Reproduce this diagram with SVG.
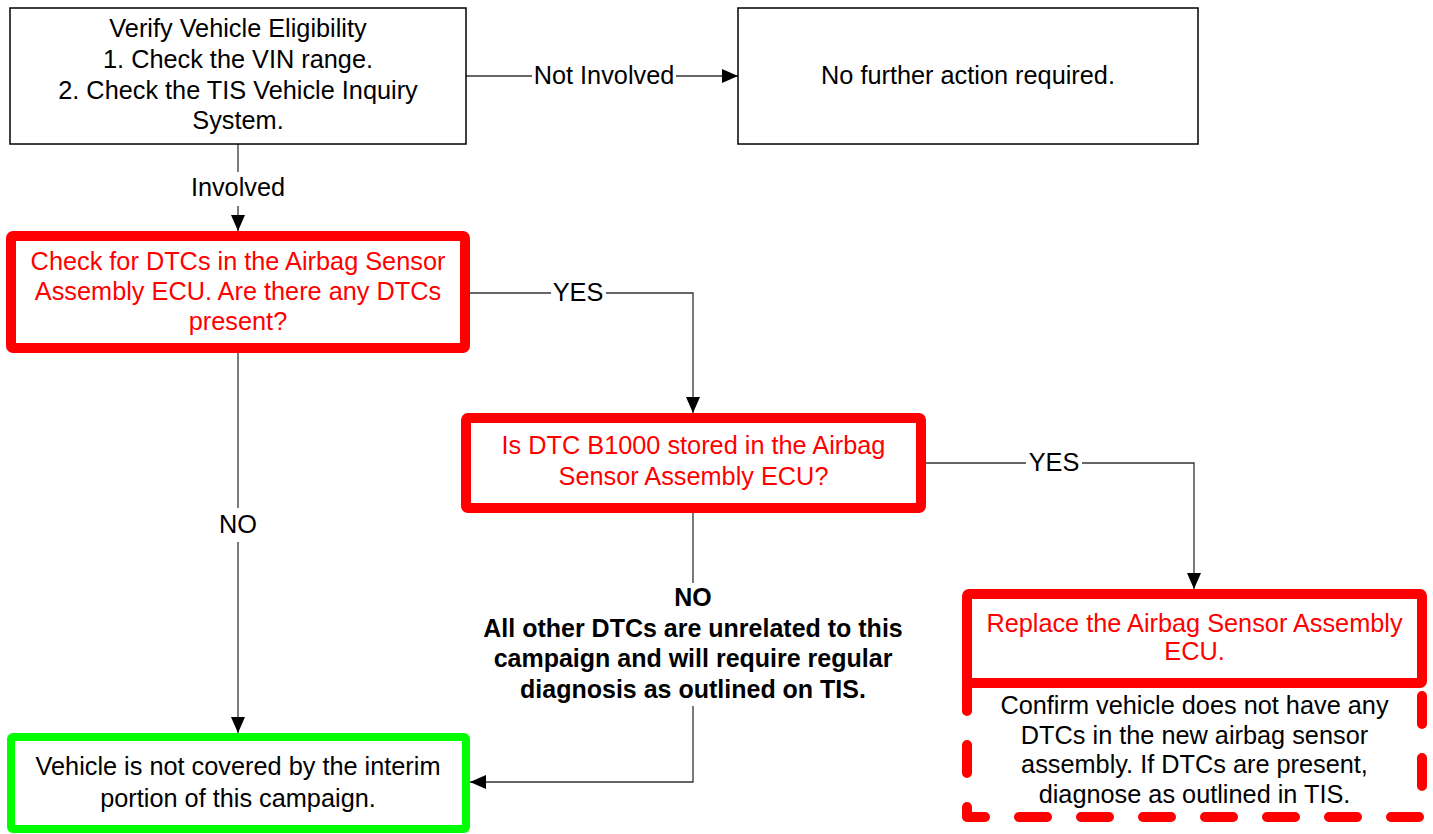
<svg xmlns="http://www.w3.org/2000/svg" width="1433" height="834" viewBox="0 0 1433 834">
<style>
text{font-family:"Liberation Sans",Arial,sans-serif;font-size:25.3px;text-anchor:middle}
.blk{fill:#000}
.red{fill:#ff0000}
.bold{font-weight:bold;font-size:25px}
.thin{fill:#fff;stroke:#000;stroke-width:1.5}
.redbox{fill:#fff;stroke:#ff0000;stroke-width:10;stroke-linejoin:round}
.greenbox{fill:#fff;stroke:#00ff00;stroke-width:8;stroke-linejoin:round}
.conn{fill:none;stroke:#333;stroke-width:1.3}
</style>
<defs>
<marker id="arr" viewBox="0 0 16 14" refX="16" refY="7" markerWidth="16" markerHeight="14" markerUnits="userSpaceOnUse" orient="auto">
<path d="M0,0 L16,7 L0,14 Z" fill="#000"/>
</marker>
</defs>
<g id="connectors">
<path class="conn" d="M466,76 L532,76"/>
<path class="conn" d="M676,76 L738,76" marker-end="url(#arr)"/>
<path class="conn" d="M238,144 L238,172"/>
<path class="conn" d="M238,206 L238,231" marker-end="url(#arr)"/>
<path class="conn" d="M470,293 L551,293"/>
<path class="conn" d="M606,293 L693,293 L693,413" marker-end="url(#arr)"/>
<path class="conn" d="M238,353 L238,508"/>
<path class="conn" d="M238,542 L238,733" marker-end="url(#arr)"/>
<path class="conn" d="M926,463 L1026,463"/>
<path class="conn" d="M1082,463 L1194,463 L1194,589" marker-end="url(#arr)"/>
<path class="conn" d="M693,513 L693,583"/>
<path class="conn" d="M693,706 L693,782 L470,782" marker-end="url(#arr)"/>
<text x="604" y="84" class="blk">Not Involved</text>
<text x="238" y="196" class="blk">Involved</text>
<text x="578" y="301" class="blk">YES</text>
<text x="238" y="533" class="blk">NO</text>
<text x="1054" y="471" class="blk">YES</text>
<text x="693" y="606" class="blk bold">NO</text>
<text x="693" y="637" class="blk bold">All other DTCs are unrelated to this</text>
<text x="693" y="667" class="blk bold">campaign and will require regular</text>
<text x="693" y="698" class="blk bold">diagnosis as outlined on TIS.</text>
</g>
<g id="verify">
<rect class="thin" x="10" y="8" width="456" height="136"/>
<text x="238" y="37" class="blk">Verify Vehicle Eligibility</text>
<text x="238" y="68" class="blk">1. Check the VIN range.</text>
<text x="238" y="99" class="blk">2. Check the TIS Vehicle Inquiry</text>
<text x="238" y="129" class="blk">System.</text>
</g>
<g id="no-further">
<rect class="thin" x="738" y="8" width="460" height="136"/>
<text x="968" y="84" class="blk">No further action required.</text>
</g>
<g id="check-dtcs">
<rect class="redbox" x="11" y="236" width="454" height="112" rx="2"/>
<text x="238" y="270" class="red">Check for DTCs in the Airbag Sensor</text>
<text x="238" y="300" class="red">Assembly ECU. Are there any DTCs</text>
<text x="238" y="330" class="red">present?</text>
</g>
<g id="b1000">
<rect class="redbox" x="466" y="418" width="455" height="90" rx="2"/>
<text x="693.5" y="454" class="red">Is DTC B1000 stored in the Airbag</text>
<text x="693.5" y="485" class="red">Sensor Assembly ECU?</text>
</g>
<g id="not-covered">
<rect class="greenbox" x="11" y="737" width="455" height="92" rx="2"/>
<text x="238" y="775" class="blk">Vehicle is not covered by the interim</text>
<text x="238" y="807" class="blk">portion of this campaign.</text>
</g>
<g id="replace">
<path d="M967,683 L967,817 L1422,817 L1422,683" fill="#fff" stroke="#ff0000" stroke-width="10" stroke-linecap="round" stroke-linejoin="round" stroke-dasharray="28 34"/>
<rect class="redbox" x="967" y="594" width="455" height="89" rx="2"/>
<text x="1194.5" y="632" class="red">Replace the Airbag Sensor Assembly</text>
<text x="1194.5" y="660" class="red">ECU.</text>
<text x="1194.5" y="714" class="blk">Confirm vehicle does not have any</text>
<text x="1194.5" y="744" class="blk">DTCs in the new airbag sensor</text>
<text x="1194.5" y="773" class="blk">assembly. If DTCs are present,</text>
<text x="1194.5" y="803" class="blk">diagnose as outlined in TIS.</text>
</g>
</svg>
